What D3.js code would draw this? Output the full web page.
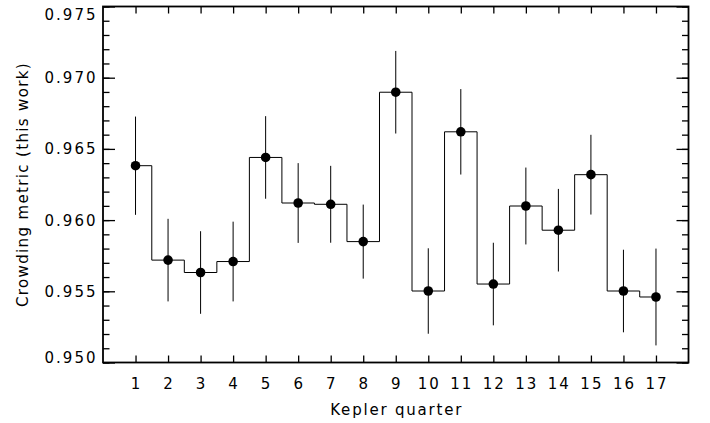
<!DOCTYPE html>
<html>
<head>
<meta charset="utf-8">
<script src="https://cdn.jsdelivr.net/npm/d3@7"></script>
<style>
	body { margin: 0; background: #fff; }
	svg { display: block; }
	text { font-family: "DejaVu Sans", sans-serif; fill: #000; }
</style>
</head>
<body>
<svg id="chart" width="710" height="423"></svg>
<script>
var quarters = [1, 2, 3, 4, 5, 6, 7, 8, 9, 10, 11, 12, 13, 14, 15, 16, 17];
var crowding = [0.96382, 0.95719, 0.95632, 0.95709, 0.96440, 0.96120, 0.96111, 0.95849, 0.96898,
	0.95502, 0.96620, 0.95551, 0.96099, 0.95929, 0.96319, 0.95502, 0.95460];
var crowdingErr = [0.00345, 0.0029, 0.0029, 0.0028, 0.0029, 0.0028, 0.0027, 0.0026, 0.0029,
	0.0030, 0.0030, 0.0029, 0.0027, 0.0029, 0.0028, 0.0029, 0.0034];
var yMajorTicks = [0.950, 0.955, 0.960, 0.965, 0.970, 0.975];
var yMinorTicks = d3.range(0, 26).map(function (i) { return 0.950 + i * 0.001 });
var xLabel = "Kepler quarter";
var yLabel = "Crowding metric (this work)";

var frame = { left: 103, right: 688.5, top: 6.5, bottom: 362.5 };
var ls = 2; // letter spacing, imitates the wide idl font

var svg = d3.select("#chart");

var x = d3.scaleLinear()
    .domain([0, 18])
    .range([frame.left, frame.right]);
var y = d3.scaleLinear()
    .domain([0.950, 0.975])
    .range([frame.bottom, frame.top]);

var points = quarters.map(function (q, i) {
	return { q: q, v: crowding[i], e: crowdingErr[i] };
});

// step histogram through the points
var step = d3.line()
    .x(function (d) { return x(d.q) })
    .y(function (d) { return y(d.v) })
    .curve(d3.curveStep);

svg.append("path")
    .datum(points)
    .attr("d", step)
    .style("fill", "none")
    .style("stroke", "#000")
    .style("stroke-width", 1);

svg.selectAll("line.err")
    .data(points)
  .enter()
  .append("line").classed("err", true)
    .attr("x1", function (d) { return x(d.q) })
    .attr("x2", function (d) { return x(d.q) })
    .attr("y1", function (d) { return y(d.v - d.e) })
    .attr("y2", function (d) { return y(d.v + d.e) })
    .style("stroke", "#000")
    .style("stroke-width", 1);

svg.selectAll("circle.pt")
    .data(points)
  .enter()
  .append("circle").classed("pt", true)
    .attr("cx", function (d) { return x(d.q) })
    .attr("cy", function (d) { return y(d.v) })
    .attr("r", 4.8)
    .style("fill", "#000");

// axes: all four sides, ticks point inward
var bottomAxis = d3.axisBottom(x).tickValues(quarters).tickSizeInner(-7).tickSizeOuter(0).tickFormat("");
var topAxis = d3.axisTop(x).tickValues(quarters).tickSizeInner(-7).tickSizeOuter(0).tickFormat("");
var leftMajor = d3.axisLeft(y).tickValues(yMajorTicks).tickSizeInner(-12).tickSizeOuter(0).tickFormat("");
var leftMinor = d3.axisLeft(y).tickValues(yMinorTicks).tickSizeInner(-6.5).tickSizeOuter(0).tickFormat("");
var rightMajor = d3.axisRight(y).tickValues(yMajorTicks).tickSizeInner(-12).tickSizeOuter(0).tickFormat("");
var rightMinor = d3.axisRight(y).tickValues(yMinorTicks).tickSizeInner(-6.5).tickSizeOuter(0).tickFormat("");

function drawAxis(axis, tx, ty) {
	var g = svg.append("g")
	    .attr("transform", "translate(" + tx + "," + ty + ")")
	    .call(axis);
	g.select(".domain").remove();
	g.selectAll(".tick line")
	    .style("stroke", "#000")
	    .style("stroke-width", 1.3);
	return g;
}

drawAxis(bottomAxis, 0, frame.bottom);
drawAxis(topAxis, 0, frame.top);
drawAxis(leftMinor, frame.left, 0);
drawAxis(leftMajor, frame.left, 0);
drawAxis(rightMinor, frame.right, 0);
drawAxis(rightMajor, frame.right, 0);

svg.append("rect")
    .attr("x", frame.left)
    .attr("y", frame.top)
    .attr("width", frame.right - frame.left)
    .attr("height", frame.bottom - frame.top)
    .style("fill", "none")
    .style("stroke", "#000")
    .style("stroke-width", 1.8);

// tick labels
svg.selectAll("text.xt")
    .data(quarters)
  .enter()
  .append("text").classed("xt", true)
    .attr("x", function (d) { return x(d) + ls / 2 })
    .attr("y", 389)
    .attr("text-anchor", "middle")
    .style("font-size", "15px")
    .style("letter-spacing", ls + "px")
    .text(function (d) { return d });

svg.selectAll("text.yt")
    .data(yMajorTicks)
  .enter()
  .append("text").classed("yt", true)
    .attr("x", 95.5 + ls)
    .attr("y", function (d) {
    	// end labels are kept inside the frame
    	return Math.max(frame.top + 13, Math.min(frame.bottom + 0.5, y(d) + 5.5));
    })
    .attr("text-anchor", "end")
    .style("font-size", "15px")
    .style("letter-spacing", ls + "px")
    .text(d3.format(".3f"));

svg.append("text")
    .attr("x", (frame.left + frame.right) / 2 + ls / 2)
    .attr("y", 415)
    .attr("text-anchor", "middle")
    .style("font-size", "15px")
    .style("letter-spacing", "1.8px")
    .text(xLabel);

svg.append("text")
    .attr("transform", "translate(28," + ((frame.top + frame.bottom) / 2) + ") rotate(-90)")
    .attr("text-anchor", "middle")
    .style("font-size", "15px")
    .style("letter-spacing", "1.35px")
    .text(yLabel);
</script>
</body>
</html>
